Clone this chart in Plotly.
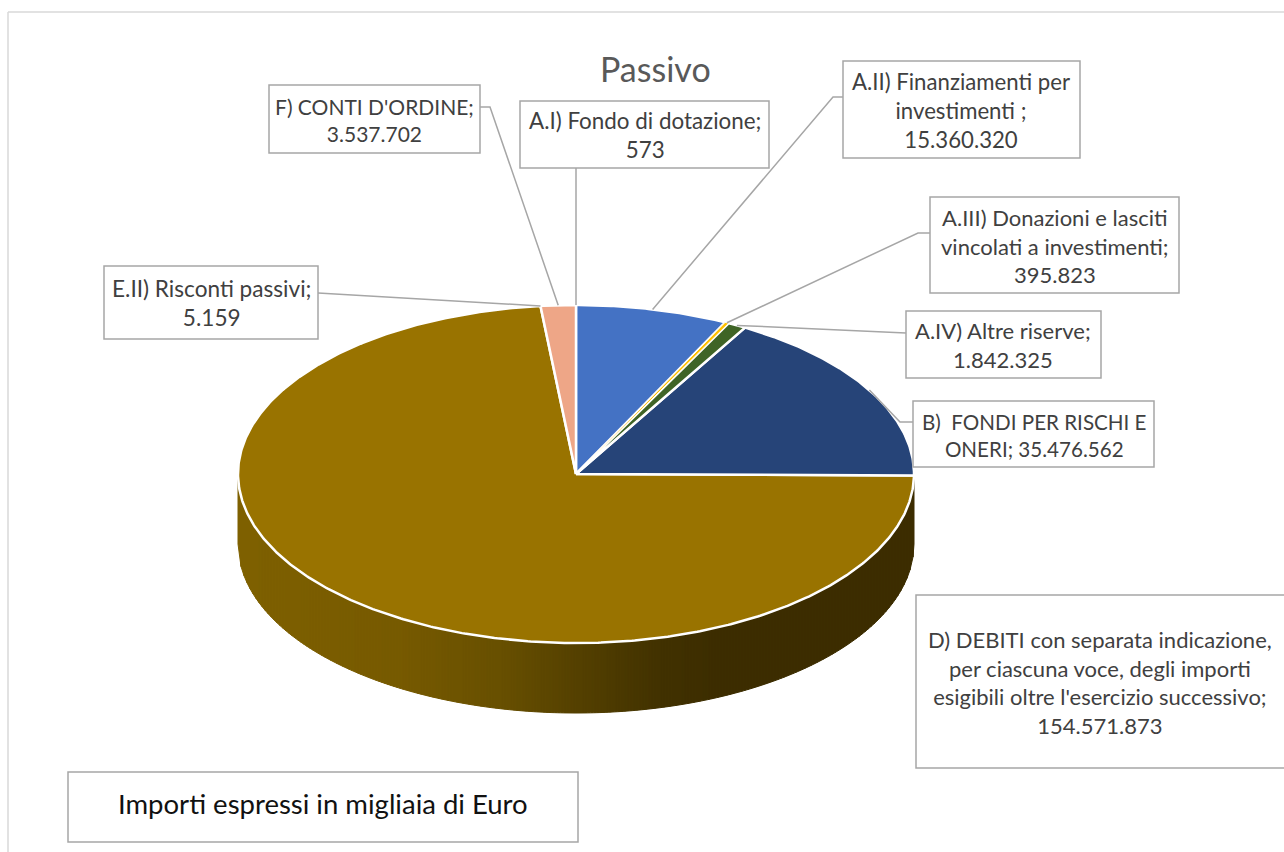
import numpy as np
import plotly.graph_objects as go

# values as printed on the chart labels (migliaia di Euro)
categories = [
    "A.I) Fondo di dotazione",
    "A.II) Finanziamenti per investimenti",
    "A.III) Donazioni e lasciti vincolati a investimenti",
    "A.IV) Altre riserve",
    "B) FONDI PER RISCHI E ONERI",
    "D) DEBITI",
    "E.II) Risconti passivi",
    "F) CONTI D'ORDINE",
]
values = [573, 15360320, 395823, 1842325, 35476562, 154571873, 5159, 3537702]
colors = ["#5B9BD5", "#4472C4", "#FFC000", "#3F6426", "#264478", "#997300", "#A5A5A5", "#EEA687"]
label_texts = [
    "A.I) Fondo di dotazione;<br>573",
    "A.II) Finanziamenti per<br>investimenti ;<br>15.360.320",
    "A.III) Donazioni e lasciti<br>vincolati a investimenti;<br>395.823",
    "A.IV) Altre riserve;<br>1.842.325",
    "B)  FONDI PER RISCHI E<br>ONERI; 35.476.562",
    "D) DEBITI con separata indicazione,<br>per ciascuna voce, degli importi<br>"
    "esigibili oltre l'esercizio successivo;<br>154.571.873",
    "E.II) Risconti passivi;<br>5.159",
    "F) CONTI D'ORDINE;<br>3.537.702",
]

# label boxes in page pixels: left, top, right, bottom
boxes = [
    (520, 101, 769, 168),
    (843, 61, 1080, 158),
    (930, 197, 1179, 293),
    (906, 311, 1101, 378),
    (913, 401, 1154, 467),
    (916, 595, 1290, 768),
    (104, 266, 318, 339),
    (269, 85, 480, 153),
]
text_centers = [(645, 135), (961, 110), (1055, 246), (1003, 345), (1034, 435), (1100, 682), (211, 303), (374, 120)]
# Lato runs wide on capitals compared to the original font
text_sizes = [22.4, 22.2, 22, 22, 20.6, 22, 22.6, 21]
# leader: start on the box edge, then the elbow, then it runs to the slice rim
leaders = [
    [(576, 168)],
    [(843, 97), (833, 97)],
    [(930, 233), (918, 233)],
    [(906, 333)],
    [(913, 422), (900, 422)],
    None,
    [(318, 293)],
    [(480, 107), (490, 107)],
]

FONT = "Lato, Carlito, Calibri, sans-serif"
CX, CY, RX, RY, DEPTH = 576, 474, 338, 169, 70
WALL_STOPS = [
    (238, (127, 97, 0)),
    (400, (119, 90, 0)),
    (500, (104, 80, 0)),
    (576, (85, 65, 0)),
    (660, (66, 50, 0)),
    (720, (60, 45, 0)),
    (914, (60, 45, 0)),
]


def rim(t):
    return CX + RX * np.sin(t), CY - RY * np.cos(t)


fig = go.Figure()

# side wall of the big slice, in narrow columns to get the gradient
wall_x = np.arange(CX - RX, CX + RX, 3.0)
stops_x = [s[0] for s in WALL_STOPS]
for x0 in wall_x:
    x1 = min(x0 + 3.0, CX + RX)
    xs = np.array([x0, x1])
    top = CY + RY * np.sqrt(np.clip(1 - ((xs - CX) / RX) ** 2, 0, 1))
    rgb = [int(np.interp(x0, stops_x, [s[1][i] for s in WALL_STOPS])) for i in range(3)]
    col = f"rgb({rgb[0]},{rgb[1]},{rgb[2]})"
    fig.add_trace(go.Scatter(
        x=[x0, x1, x1, x0, x0],
        y=[top[0], top[1], top[1] + DEPTH, top[0] + DEPTH, top[0]],
        mode="lines", fill="toself", fillcolor=col, line=dict(color=col, width=1),
        hoverinfo="skip", showlegend=False,
    ))

# top face, slice angles come straight from the values
# big slices first so the white outline does not swallow the thin ones
edges = np.cumsum([0] + values) / sum(values) * 2 * np.pi
for i in sorted(range(len(values)), key=lambda k: -values[k]):
    t = np.linspace(edges[i], edges[i + 1], max(2, int((edges[i + 1] - edges[i]) * 120)))
    px, py = rim(t)
    outline = 2.5 if values[i] > 1000000 else 1
    fig.add_trace(go.Scatter(
        x=np.r_[CX, px, CX], y=np.r_[CY, py, CY], name=categories[i],
        mode="lines", fill="toself", fillcolor=colors[i],
        line=dict(color="white", width=outline), hoverinfo="name", showlegend=False,
    ))

shapes = [
    dict(type="line", x0=8, y0=12, x1=1290, y1=12, line=dict(color="#D9D9D9", width=1.5)),
    dict(type="line", x0=8, y0=12, x1=8, y1=860, line=dict(color="#D9D9D9", width=1.5)),
    dict(type="rect", x0=68, y0=772, x1=578, y1=842, fillcolor="white",
         line=dict(color="#A6A6A6", width=1.5)),
]
annotations = [
    dict(x=655, y=68, text="Passivo", showarrow=False,
         font=dict(family=FONT, size=34, color="#595959")),
    dict(x=323, y=803, text="Importi espressi in migliaia di Euro", showarrow=False,
         font=dict(family=FONT, size=27.5, color="#111111")),
]

mids = (edges[:-1] + edges[1:]) / 2
for i, box in enumerate(boxes):
    shapes.append(dict(type="rect", x0=box[0], y0=box[1], x1=box[2], y1=box[3],
                       fillcolor="white", line=dict(color="#A6A6A6", width=1.5)))
    annotations.append(dict(x=text_centers[i][0], y=text_centers[i][1], text=label_texts[i],
                            showarrow=False, align="center",
                            font=dict(family=FONT, size=text_sizes[i], color="#404040")))
    if leaders[i] is not None:
        ex, ey = rim(mids[i])
        pts = leaders[i] + [(ex, ey)]
        path = "M " + " L ".join(f"{p[0]:.1f},{p[1]:.1f}" for p in pts)
        shapes.append(dict(type="path", path=path, line=dict(color="#A6A6A6", width=1.5)))

fig.update_layout(
    width=1284,
    height=852,
    margin=dict(l=0, r=0, t=0, b=0),
    paper_bgcolor="white",
    plot_bgcolor="white",
    xaxis=dict(range=[0, 1284], visible=False, fixedrange=True),
    yaxis=dict(range=[852, 0], visible=False, fixedrange=True),
    shapes=shapes,
    annotations=annotations,
)
fig.write_html("out.html", config={"displayModeBar": False},
               post_script="document.body.style.margin='0';")
